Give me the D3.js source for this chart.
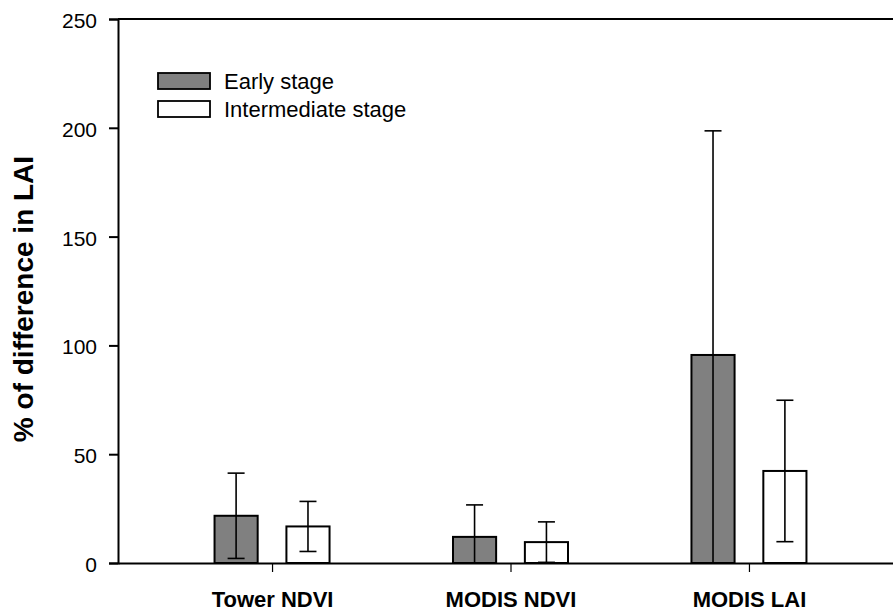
<!DOCTYPE html>
<html>
<head>
<meta charset="utf-8">
<script src="https://cdn.jsdelivr.net/npm/d3@7.9.0/dist/d3.min.js"></script>
<style>
  body { margin: 0; background: #fff; }
  svg { display: block; font-family: "Liberation Sans", Arial, sans-serif; }
</style>
</head>
<body>
<div id="chart"></div>
<script>
// Chart values
const categories = ['Tower NDVI', 'MODIS NDVI', 'MODIS LAI'];
const stages = ['Early stage', 'Intermediate stage'];
const earlyMean = [21.7, 12.0, 95.6];
const earlyErr = [19.6, 14.7, 103.0];
const interMean = [16.8, 9.6, 42.3];
const interErr = [11.5, 9.3, 32.5];
const yTicks = [0, 50, 100, 150, 200, 250];

const width = 893;
const height = 613;

// Plot area
const area = { left: 118, right: 903, top: 19, bottom: 563 };

const svg = d3.select('#chart')
    .append('svg')
    .attr('width', width)
    .attr('height', height);

// Scales
const xScale = d3.scalePoint()
    .domain(categories)
    .range([area.left, area.right])
    .padding(0.646);

const subScale = d3.scaleBand()
    .domain(stages)
    .range([-57.5, 57.5])
    .paddingInner(0.4)
    .paddingOuter(0);

const yScale = d3.scaleLinear()
    .domain([0, 250])
    .range([area.bottom, area.top]);

const fillColor = d3.scaleOrdinal()
    .domain(stages)
    .range(['#808080', '#ffffff']);

// Flatten into rows for drawing
const rows = [];
categories.forEach((cat, i) => {
    rows.push({ cat, stage: stages[0], mean: earlyMean[i], err: earlyErr[i] });
    rows.push({ cat, stage: stages[1], mean: interMean[i], err: interErr[i] });
});

// Clip for error bars that go below zero
svg.append('clipPath')
    .attr('id', 'plot-clip')
    .append('rect')
    .attr('x', area.left)
    .attr('y', area.top - 5)
    .attr('width', area.right - area.left)
    .attr('height', area.bottom - area.top + 5);

// Bars
svg.append('g')
    .attr('class', 'bars')
    .selectAll('rect')
    .data(rows)
    .join('rect')
    .attr('x', (d) => xScale(d.cat) + subScale(d.stage))
    .attr('y', (d) => yScale(d.mean))
    .attr('width', subScale.bandwidth())
    .attr('height', (d) => yScale(0) - yScale(d.mean))
    .attr('fill', (d) => fillColor(d.stage))
    .attr('stroke', '#000')
    .attr('stroke-width', 2);

// Error bars
const errG = svg.append('g')
    .attr('class', 'errors')
    .attr('clip-path', 'url(#plot-clip)')
    .attr('stroke', '#000')
    .attr('stroke-width', 1.6);

const cx = (d) => xScale(d.cat) + subScale(d.stage) + subScale.bandwidth() / 2;
const capHalf = 8.5;

errG.selectAll('line.stem')
    .data(rows)
    .join('line')
    .attr('class', 'stem')
    .attr('x1', cx)
    .attr('x2', cx)
    .attr('y1', (d) => yScale(d.mean + d.err))
    .attr('y2', (d) => yScale(d.mean - d.err));

errG.selectAll('line.cap-top')
    .data(rows)
    .join('line')
    .attr('class', 'cap-top')
    .attr('x1', (d) => cx(d) - capHalf)
    .attr('x2', (d) => cx(d) + capHalf)
    .attr('y1', (d) => yScale(d.mean + d.err))
    .attr('y2', (d) => yScale(d.mean + d.err));

errG.selectAll('line.cap-bottom')
    .data(rows.filter((d) => d.mean - d.err >= 0))
    .join('line')
    .attr('class', 'cap-bottom')
    .attr('x1', (d) => cx(d) - capHalf)
    .attr('x2', (d) => cx(d) + capHalf)
    .attr('y1', (d) => yScale(d.mean - d.err))
    .attr('y2', (d) => yScale(d.mean - d.err));

// Y axis
const yAxis = svg.append('g')
    .attr('transform', `translate(${area.left}, 0)`)
    .call(d3.axisLeft(yScale).tickValues(yTicks).tickSize(9).tickPadding(12));
yAxis.select('.domain').attr('stroke-width', 2);
yAxis.selectAll('.tick line').attr('stroke-width', 2);
yAxis.selectAll('.tick text')
    .attr('font-size', 21)
    .attr('dy', '0.4em')
    .attr('font-family', '"Liberation Sans", Arial, sans-serif')
    .attr('fill', '#000');

// X axis
const xAxis = svg.append('g')
    .attr('transform', `translate(0, ${area.bottom})`)
    .call(d3.axisBottom(xScale).tickSize(9).tickPadding(19).tickSizeOuter(0));
xAxis.select('.domain').attr('stroke-width', 2);
xAxis.selectAll('.tick line').attr('stroke-width', 1.2);
xAxis.selectAll('.tick text')
    .attr('font-size', 22)
    .attr('font-weight', 'bold')
    .attr('font-family', '"Liberation Sans", Arial, sans-serif')
    .attr('fill', '#000');

// Top frame line
svg.append('line')
    .attr('x1', area.left)
    .attr('x2', area.right)
    .attr('y1', area.top)
    .attr('y2', area.top)
    .attr('stroke', '#000')
    .attr('stroke-width', 2);

// Y axis title
svg.append('text')
    .attr('transform', 'translate(33, 299) rotate(-90)')
    .attr('text-anchor', 'middle')
    .attr('font-size', 28)
    .attr('font-weight', 'bold')
    .text('% of difference in LAI');

// Legend
const legend = svg.append('g')
    .attr('transform', 'translate(158, 73)');

const legendItems = legend.selectAll('g')
    .data(stages)
    .join('g')
    .attr('transform', (d, i) => `translate(0, ${i * 28})`);

legendItems.append('rect')
    .attr('width', 52)
    .attr('height', 16)
    .attr('fill', (d) => fillColor(d))
    .attr('stroke', '#000')
    .attr('stroke-width', 1.8);

legendItems.append('text')
    .attr('x', 66)
    .attr('y', 8)
    .attr('dy', '0.35em')
    .attr('font-size', 22)
    .text((d) => d);
</script>
</body>
</html>
